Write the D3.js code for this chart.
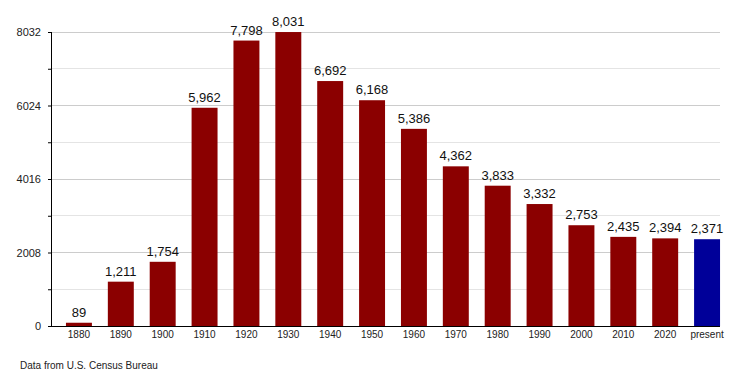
<!DOCTYPE html>
<html><head><meta charset="utf-8">
<script src="https://cdn.jsdelivr.net/npm/d3@7"></script>
<style>body{margin:0;background:#fff}svg{display:block}text{font-family:"Liberation Sans",Arial,sans-serif}</style>
</head><body><svg id="c" width="750" height="375"></svg>
<script>
const categories=["1880","1890","1900","1910","1920","1930","1940","1950","1960","1970","1980","1990","2000","2010","2020","present"];
const values=[89,1211,1754,5962,7798,8031,6692,6168,5386,4362,3833,3332,2753,2435,2394,2371];
const yTicks=[0,2008,4016,6024,8032];
const minorTicks=[1004,3012,5020,7028];
const sourceText="Data from U.S. Census Bureau";

const svg=d3.select("#c");
const x=d3.scaleBand().domain(categories).range([58,728]).paddingInner(0.38).paddingOuter(0.19);
const y=d3.scaleLinear().domain([0,8032]).range([326,32]);

// grid
svg.append("g").selectAll("line").data(yTicks.concat(minorTicks)).join("line")
 .attr("x1",51).attr("x2",720).attr("y1",d=>y(d)).attr("y2",d=>y(d))
 .attr("stroke",d=>yTicks.includes(d)?"#cccccc":"#e4e4e4").attr("stroke-width",1).attr("shape-rendering","crispEdges");

// bars
svg.append("g").selectAll("rect").data(values).join("rect")
 .attr("x",(d,i)=>x(categories[i])).attr("width",x.bandwidth())
 .attr("y",d=>y(d)).attr("height",d=>y(0)-y(d))
 .attr("fill",(d,i)=>categories[i]==="present"?"#000099":"#8b0000");

// value labels
svg.append("g").selectAll("text").data(values).join("text")
 .attr("x",(d,i)=>x(categories[i])+x.bandwidth()/2).attr("y",d=>y(d)-6)
 .attr("text-anchor","middle").attr("font-size",13).attr("fill","#111")
 .text(d=>d3.format(",")(d));

// y axis
const yAxis=d3.axisLeft(y).tickValues(yTicks).tickSize(3).tickFormat(d=>d);
const gy=svg.append("g").attr("transform","translate(51,0)").call(yAxis);
gy.select(".domain").remove();
gy.selectAll("text").attr("font-size",11).attr("fill","#222").attr("font-family","Liberation Sans, Arial, sans-serif").attr("x",-10);
gy.selectAll(".tick line").attr("stroke","#000");
svg.append("g").attr("transform","translate(51,0)").call(d3.axisLeft(y).tickValues(minorTicks).tickSize(3).tickFormat(""))
 .select(".domain").remove();
svg.append("line").attr("x1",51).attr("x2",51).attr("y1",32).attr("y2",326).attr("stroke","#000").attr("shape-rendering","crispEdges");

// x axis
const gx=svg.append("g").attr("transform","translate(0,326)").call(d3.axisBottom(x).tickSize(0).tickPadding(5));
gx.select(".domain").attr("d","M51,0.5H720").attr("stroke","#000");
gx.selectAll("text").attr("font-size",10).attr("fill","#222").attr("font-family","Liberation Sans, Arial, sans-serif");

svg.append("text").attr("x",20).attr("y",369).attr("font-size",10).attr("fill","#222").text(sourceText);
</script></body></html>
